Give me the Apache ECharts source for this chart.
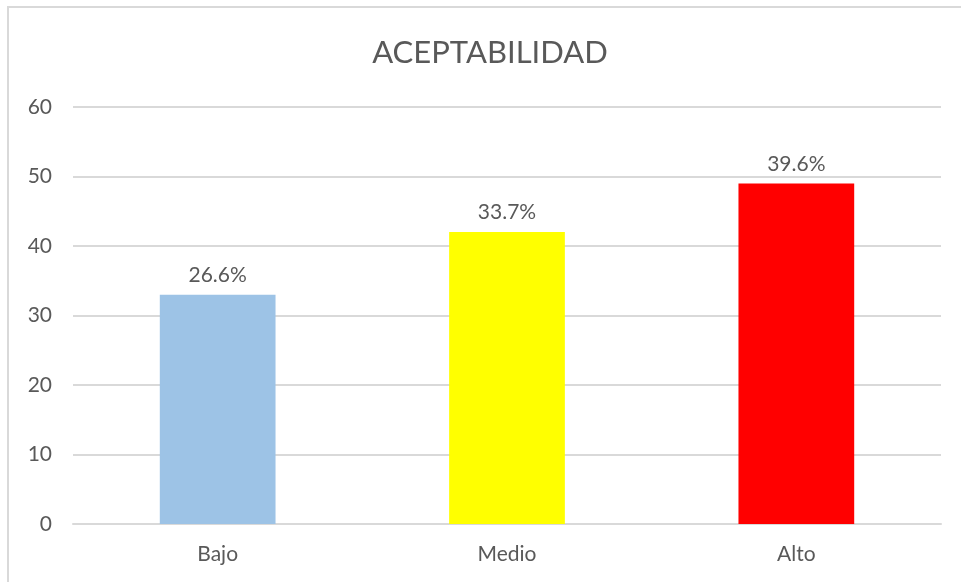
<!DOCTYPE html>
<html>
<head>
<meta charset="utf-8">
<title>ACEPTABILIDAD</title>
<script src="https://cdn.jsdelivr.net/npm/echarts@6/dist/echarts.min.js"></script>
<style>
  html, body { margin: 0; padding: 0; background: #fff; }
  #chart { width: 961px; height: 582px; }
</style>
</head>
<body>
<div id="chart"></div>
<script>
const categories = ['Bajo', 'Medio', 'Alto'];
const counts = [33, 42, 49];
const percentLabels = ['26.6%', '33.7%', '39.6%'];
const barColors = ['#9DC3E6', '#FFFF00', '#FF0000'];

const textColor = '#595959';
const fontFamily = 'Lato, "Noto Sans", sans-serif';

const chart = echarts.init(document.getElementById('chart'));
chart.setOption({
  animation: false,
  title: {
    text: 'ACEPTABILIDAD',
    left: 485,
    top: 32,
    textAlign: 'center',
    textStyle: {
      color: textColor,
      fontFamily,
      fontSize: 31,
      fontWeight: 'normal'
    }
  },
  graphic: [
    {
      type: 'rect',
      shape: { x: 8, y: 7, width: 1000, height: 1000 },
      style: { fill: 'none', stroke: '#d9d9d9', lineWidth: 2 },
      silent: true
    }
  ],
  grid: {
    left: 73,
    right: 20,
    top: 107,
    bottom: 58
  },
  xAxis: {
    type: 'category',
    data: categories,
    axisTick: { show: false },
    axisLine: { lineStyle: { color: '#d9d9d9', width: 2 } },
    axisLabel: {
      color: textColor,
      fontFamily,
      fontSize: 21,
      margin: 20
    }
  },
  yAxis: {
    type: 'value',
    min: 0,
    max: 60,
    interval: 10,
    axisLine: { show: false },
    axisTick: { show: false },
    axisLabel: {
      color: textColor,
      fontFamily,
      fontSize: 21,
      margin: 21
    },
    splitLine: { lineStyle: { color: '#d9d9d9', width: 2 } }
  },
  series: [
    {
      type: 'bar',
      barWidth: '40%',
      data: counts.map((v, i) => ({
        value: v,
        itemStyle: { color: barColors[i] }
      })),
      label: {
        show: true,
        position: 'top',
        distance: 9,
        color: textColor,
        fontFamily,
        fontSize: 21,
        formatter: (p) => percentLabels[p.dataIndex]
      }
    }
  ]
});
</script>
</body>
</html>
